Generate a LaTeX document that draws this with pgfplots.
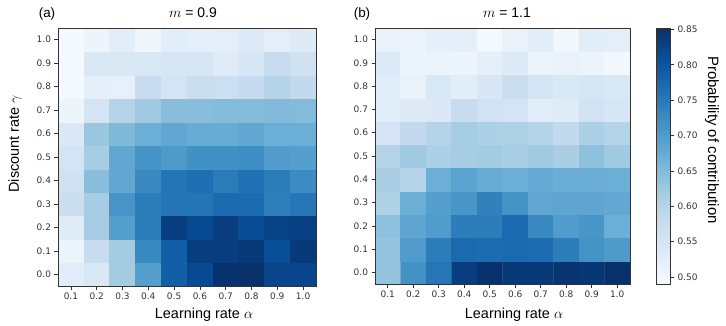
\documentclass[border=0pt]{standalone}
\usepackage{fontspec}
\setmainfont{Liberation Sans}
\newfontfamily\dejavu{DejaVu Sans}
\usepackage{pgfplots}
\pgfplotsset{compat=1.18}

% matplotlib "Blues"
\pgfplotsset{
  colormap={mplblues}{rgb255=(247,251,255) rgb255=(222,235,247) rgb255=(198,219,239)
    rgb255=(158,202,225) rgb255=(107,174,214) rgb255=(66,146,198) rgb255=(33,113,181)
    rgb255=(8,81,156) rgb255=(8,48,107)},
  heat/.style={
    scale only axis, anchor=south west,
    colormap name=mplblues, point meta min=0.49, point meta max=0.852,
    xmin=0.5, xmax=10.5, ymin=-0.5, ymax=10.5,
    xtick={1,...,10}, xticklabels={0.1,0.2,0.3,0.4,0.5,0.6,0.7,0.8,0.9,1.0},
    ytick={0,...,10}, yticklabels={0.0,0.1,0.2,0.3,0.4,0.5,0.6,0.7,0.8,0.9,1.0},
    tick align=outside, tick pos=left, major tick length=3.5bp,
    tick style={black!80, line width=0.6bp},
    tick label style={font=\dejavu\fontsize{9}{10}\selectfont, text=black!80},
    axis line style={black!80, line width=0.8bp},
    axis on top,
  },
  cell/.style={matrix plot*, mesh/cols=10, point meta=explicit},
}

\begin{document}
\begin{tikzpicture}
\path[use as bounding box] (0,0) rectangle (726bp,326bp);

\begin{axis}[heat, at={(58bp,40bp)}, width=258bp, height=258bp]
\addplot[cell] table[row sep=\\, meta=c] {
x y c\\
1 0 0.530\\ 2 0 0.544\\ 3 0 0.620\\ 4 0 0.696\\ 5 0 0.787\\ 6 0 0.816\\ 7 0 0.849\\ 8 0 0.852\\ 9 0 0.823\\ 10 0 0.823\\
1 1 0.512\\ 2 1 0.577\\ 3 1 0.620\\ 4 1 0.729\\ 5 1 0.787\\ 6 1 0.834\\ 7 1 0.834\\ 8 1 0.838\\ 9 1 0.809\\ 10 1 0.838\\
1 2 0.533\\ 2 2 0.617\\ 3 2 0.695\\ 4 2 0.747\\ 5 2 0.834\\ 6 2 0.816\\ 7 2 0.834\\ 8 2 0.812\\ 9 2 0.827\\ 10 2 0.830\\
1 3 0.573\\ 2 3 0.617\\ 3 3 0.711\\ 4 3 0.747\\ 5 3 0.758\\ 6 3 0.758\\ 7 3 0.772\\ 8 3 0.770\\ 9 3 0.743\\ 10 3 0.754\\
1 4 0.562\\ 2 4 0.645\\ 3 4 0.682\\ 4 4 0.729\\ 5 4 0.758\\ 6 4 0.765\\ 7 4 0.747\\ 8 4 0.762\\ 9 4 0.747\\ 10 4 0.725\\
1 5 0.555\\ 2 5 0.617\\ 3 5 0.682\\ 4 5 0.714\\ 5 5 0.703\\ 6 5 0.718\\ 7 5 0.718\\ 8 5 0.720\\ 9 5 0.700\\ 10 5 0.695\\
1 6 0.541\\ 2 6 0.630\\ 3 6 0.653\\ 4 6 0.671\\ 5 6 0.682\\ 6 6 0.675\\ 7 6 0.675\\ 8 6 0.682\\ 9 6 0.671\\ 10 6 0.671\\
1 7 0.508\\ 2 7 0.555\\ 3 7 0.603\\ 4 7 0.625\\ 5 7 0.645\\ 6 7 0.645\\ 7 7 0.650\\ 8 7 0.650\\ 9 7 0.651\\ 10 7 0.650\\
1 8 0.497\\ 2 8 0.523\\ 3 8 0.520\\ 4 8 0.577\\ 5 8 0.555\\ 6 8 0.573\\ 7 8 0.570\\ 8 8 0.580\\ 9 8 0.600\\ 10 8 0.585\\
1 9 0.497\\ 2 9 0.544\\ 3 9 0.544\\ 4 9 0.544\\ 5 9 0.550\\ 6 9 0.550\\ 7 9 0.533\\ 8 9 0.547\\ 9 9 0.577\\ 10 9 0.562\\
1 10 0.497\\ 2 10 0.508\\ 3 10 0.530\\ 4 10 0.505\\ 5 10 0.530\\ 6 10 0.523\\ 7 10 0.527\\ 8 10 0.537\\ 9 10 0.527\\ 10 10 0.535\\
};
\end{axis}

\begin{axis}[heat, at={(375bp,42bp)}, width=255bp, height=256bp,
  colorbar,
  colorbar style={at={(parent axis.north east)}, anchor=north west, xshift=18bp,
    width=14bp, ytick={0.50,0.55,0.60,0.65,0.70,0.75,0.80,0.85},
    yticklabel style={/pgf/number format/.cd, fixed, fixed zerofill, precision=2,
      assume math mode=true},
    tick label style={font=\dejavu\fontsize{9}{10}\selectfont, text=black!80},
    tick align=outside, ytick pos=right, major tick length=3.5bp,
    tick style={black!80, line width=0.6bp},
    axis line style={black!80, line width=0.8bp}}]
\addplot[cell] table[row sep=\\, meta=c] {
x y c\\
1 0 0.635\\ 2 0 0.716\\ 3 0 0.755\\ 4 0 0.834\\ 5 0 0.850\\ 6 0 0.840\\ 7 0 0.840\\ 8 0 0.847\\ 9 0 0.843\\ 10 0 0.852\\
1 1 0.635\\ 2 1 0.700\\ 3 1 0.745\\ 4 1 0.772\\ 5 1 0.768\\ 6 1 0.772\\ 7 1 0.768\\ 8 1 0.745\\ 9 1 0.714\\ 10 1 0.703\\
1 2 0.640\\ 2 2 0.686\\ 3 2 0.700\\ 4 2 0.745\\ 5 2 0.745\\ 6 2 0.770\\ 7 2 0.730\\ 8 2 0.700\\ 9 2 0.710\\ 10 2 0.670\\
1 3 0.608\\ 2 3 0.670\\ 3 3 0.695\\ 4 3 0.710\\ 5 3 0.740\\ 6 3 0.714\\ 7 3 0.682\\ 8 3 0.686\\ 9 3 0.686\\ 10 3 0.680\\
1 4 0.612\\ 2 4 0.600\\ 3 4 0.670\\ 4 4 0.690\\ 5 4 0.675\\ 6 4 0.671\\ 7 4 0.678\\ 8 4 0.672\\ 9 4 0.672\\ 10 4 0.670\\
1 5 0.603\\ 2 5 0.625\\ 3 5 0.610\\ 4 5 0.617\\ 5 5 0.620\\ 6 5 0.615\\ 7 5 0.625\\ 8 5 0.612\\ 9 5 0.640\\ 10 5 0.625\\
1 6 0.555\\ 2 6 0.585\\ 3 6 0.600\\ 4 6 0.617\\ 5 6 0.610\\ 6 6 0.608\\ 7 6 0.600\\ 8 6 0.585\\ 9 6 0.610\\ 10 6 0.603\\
1 7 0.530\\ 2 7 0.535\\ 3 7 0.540\\ 4 7 0.577\\ 5 7 0.560\\ 6 7 0.555\\ 7 7 0.530\\ 8 7 0.533\\ 9 7 0.560\\ 10 7 0.550\\
1 8 0.530\\ 2 8 0.515\\ 3 8 0.544\\ 4 8 0.530\\ 5 8 0.547\\ 6 8 0.573\\ 7 8 0.555\\ 8 8 0.544\\ 9 8 0.550\\ 10 8 0.544\\
1 9 0.537\\ 2 9 0.508\\ 3 9 0.512\\ 4 9 0.508\\ 5 9 0.523\\ 6 9 0.537\\ 7 9 0.508\\ 8 9 0.515\\ 9 9 0.510\\ 10 9 0.500\\
1 10 0.515\\ 2 10 0.512\\ 3 10 0.523\\ 4 10 0.523\\ 5 10 0.497\\ 6 10 0.515\\ 7 10 0.530\\ 8 10 0.500\\ 9 10 0.530\\ 10 10 0.527\\
};
\end{axis}

% panel letters, titles and labels
\node[font=\fontsize{13.5}{15}\selectfont] at (47bp,312bp) {(a)};
\node[font=\fontsize{13.5}{15}\selectfont] at (362bp,312bp) {(b)};
\node[font=\fontsize{14}{16}\selectfont] at (193bp,313bp) {$m$ = 0.9};
\node[font=\fontsize{14}{16}\selectfont] at (507bp,313bp) {$m$ = 1.1};
\node[font=\fontsize{14.5}{16}\selectfont, rotate=90] at (15bp,182bp) {Discount rate $\gamma$};
\node[font=\fontsize{14.5}{16}\selectfont] at (204bp,11bp) {Learning rate $\alpha$};
\node[font=\fontsize{14.5}{16}\selectfont] at (514bp,11bp) {Learning rate $\alpha$};
\node[font=\fontsize{15}{17}\selectfont, rotate=-90] at (712bp,186bp) {Probability of contribution};
\end{tikzpicture}
\end{document}
